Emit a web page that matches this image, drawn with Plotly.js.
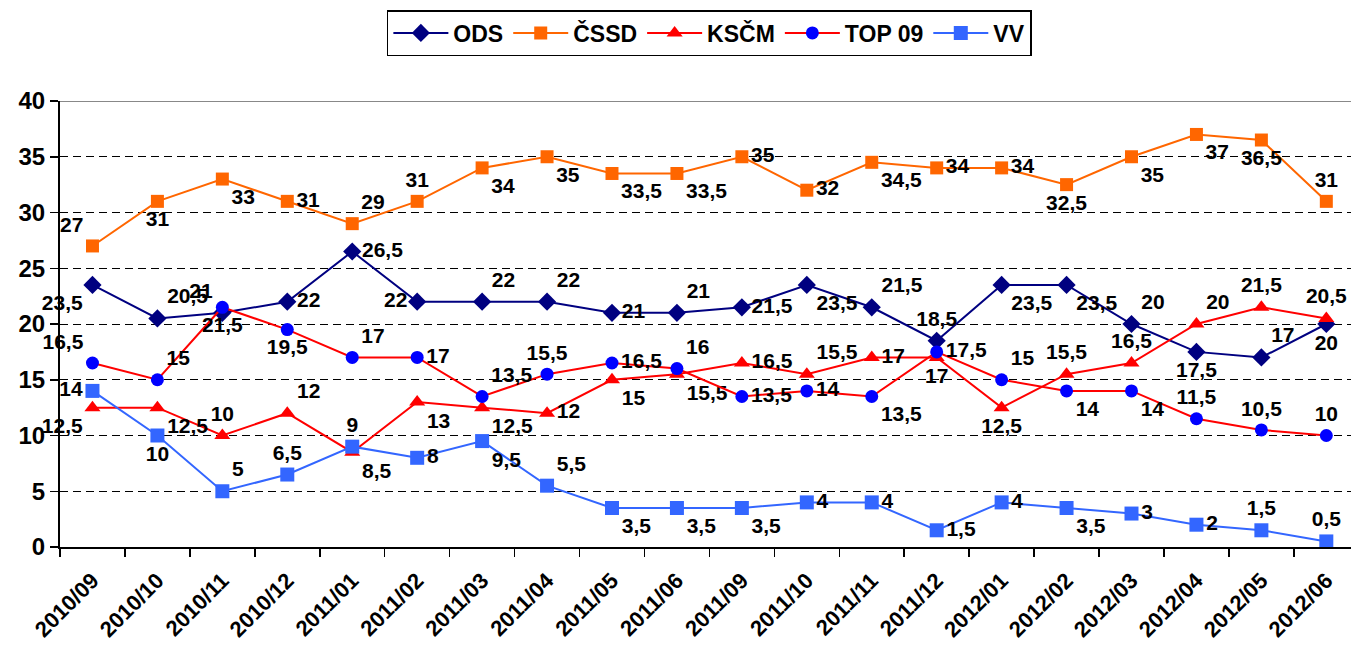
<!DOCTYPE html>
<html>
<head>
<meta charset="utf-8">
<script src="https://cdn.plot.ly/plotly-3.0.1.min.js"></script>
<style>html,body{margin:0;padding:0;background:#fff;}#chart{width:1351px;height:650px;}</style>
</head>
<body>
<div id="chart"></div>
<script>
const months = ["2010/09","2010/10","2010/11","2010/12","2011/01","2011/02","2011/03","2011/04","2011/05","2011/06","2011/09","2011/10","2011/11","2011/12","2012/01","2012/02","2012/03","2012/04","2012/05","2012/06"];
const ods  = [23.5,20.5,21,22,26.5,22,22,22,21,21,21.5,23.5,21.5,18.5,23.5,23.5,20,17.5,17,20];
const cssd = [27,31,33,31,29,31,34,35,33.5,33.5,35,32,34.5,34,34,32.5,35,37,36.5,31];
const kscm = [12.5,12.5,10,12,8.5,13,12.5,12,15,15.5,16.5,15.5,17,17,12.5,15.5,16.5,20,21.5,20.5];
const top09 = [16.5,15,21.5,19.5,17,17,13.5,15.5,16.5,16,13.5,14,13.5,17.5,15,14,14,11.5,10.5,10];
const vv   = [14,10,5,6.5,9,8,9.5,5.5,3.5,3.5,3.5,4,4,1.5,4,3.5,3,2,1.5,0.5];

// label placement (style only)
const odsPos = ['bottom left','top right','top left','middle right','middle right','middle left','top right','top right','middle right','top right','middle right','bottom right','top right','top center','bottom right','bottom right','top right','bottom center','top right','bottom center'];
const cssdPos = ['top left','bottom center','bottom right','middle right','top right','top center','bottom right','bottom right','bottom right','bottom right','middle right','middle right','bottom right','middle right','middle right','bottom center','bottom right','bottom right','bottom center','top center'];
const kscmPos = ['bottom left','bottom right','top center','top right','bottom right','bottom right','bottom right','middle right','bottom right','bottom right','middle right','top right','middle right','bottom center','bottom center','top center','top center','top right','top center','top center'];
const topPos = ['top left','top right','bottom center','bottom center','top right','middle right','top right','top center','middle right','top right','middle right','middle right','bottom right','middle right','top right','bottom right','bottom right','top center','top center','top center'];
const vvPos = ['middle left','bottom center','top right','top center','top center','middle right','bottom right','top right','bottom right','bottom right','bottom right','middle right','middle right','middle right','middle right','bottom right','middle right','middle right','top center','top center'];

const FONT = "Liberation Sans, Arial, Helvetica, sans-serif";
const lbl = v => v.map(x => String(x).replace('.', ','));

function series(name, vals, pos, lineColor, markerColor, symbol, size) {
  return {
    type: 'scatter', mode: 'lines+markers+text', name: name,
    x: months, y: vals, text: lbl(vals), textposition: pos,
    textfont: {family: FONT, size: 21, color: '#000', weight: 'bold'},
    line: {color: lineColor, width: 2},
    marker: {color: markerColor, symbol: symbol, size: size},
    cliponaxis: false, hoverinfo: 'x+y'
  };
}

const data = [
  series('ODS', ods, odsPos, '#000080', '#000080', 'diamond', 14),
  series('ČSSD', cssd, cssdPos, '#FF6600', '#FF6600', 'square', 13),
  series('KSČM', kscm, kscmPos, '#FF0000', '#FF0000', 'triangle-up', 14),
  series('TOP 09', top09, topPos, '#FF0000', '#0000FF', 'circle', 13),
  series('VV', vv, vvPos, '#3366FF', '#3366FF', 'square', 14)
];

const layout = {
  width: 1351, height: 650,
  margin: {l: 60, r: 0, t: 101, b: 103},
  paper_bgcolor: '#fff', plot_bgcolor: '#fff',
  font: {family: FONT, color: '#000'},
  showlegend: true,
  legend: {
    orientation: 'h', x: 0.503, xanchor: 'center', y: 1.204, yanchor: 'top',
    bordercolor: '#000', borderwidth: 1.5, bgcolor: '#fff',
    font: {family: FONT, size: 23, color: '#000', weight: 'bold'},
    itemwidth: 55, tracegroupgap: 0
  },
  xaxis: {
    type: 'category', range: [-0.5, 19.38],
    showline: true, linecolor: '#000', linewidth: 2,
    ticks: 'outside', tickson: 'boundaries', ticklen: 8, tickcolor: '#000', tickwidth: 1.5,
    tickangle: -45, showgrid: false, zeroline: false, ticklabelstandoff: 10,
    tickfont: {family: FONT, size: 22, color: '#000', weight: 'bold'}
  },
  yaxis: {
    range: [0, 40], tickvals: [0,5,10,15,20,25,30,35,40],
    showline: true, linecolor: '#000', linewidth: 2,
    ticks: 'outside', ticklen: 8, tickcolor: '#000', tickwidth: 1.5,
    showgrid: true, gridcolor: '#000', gridwidth: 1, griddash: '8px,5px',
    zeroline: false,
    tickfont: {family: FONT, size: 24, color: '#000', weight: 'bold'}
  },
  shapes: [{type: 'line', xref: 'paper', yref: 'y', x0: 0, x1: 1, y0: 40, y1: 40,
            line: {color: '#888', width: 2}}]
};

Plotly.newPlot('chart', data, layout, {displayModeBar: false, staticPlot: true});
</script>
</body>
</html>
